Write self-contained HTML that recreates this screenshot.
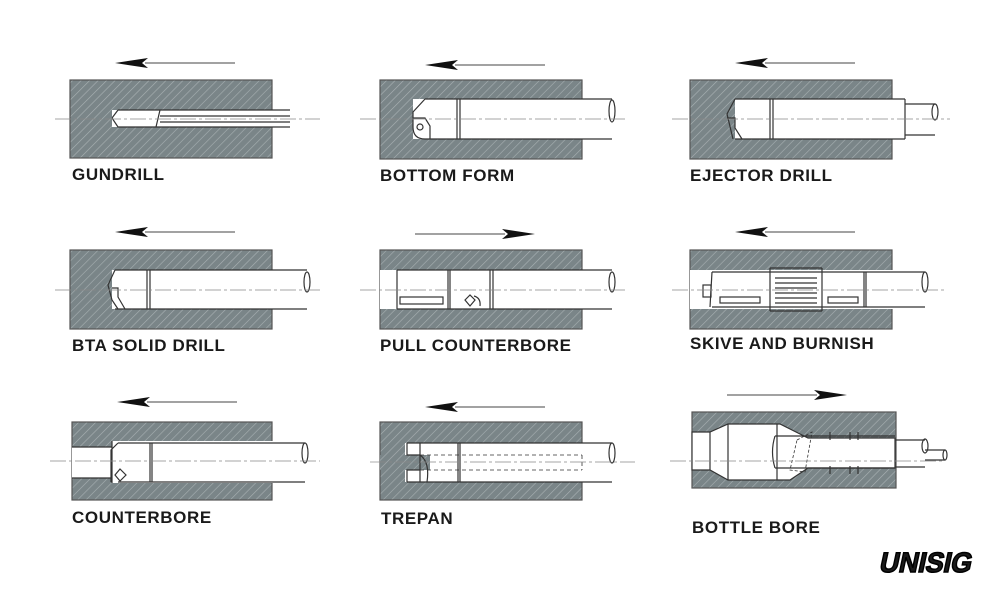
<!DOCTYPE html>
<html><head><meta charset="utf-8"><style>
html,body{margin:0;padding:0;background:#fff;width:1000px;height:600px;overflow:hidden}
text{font-family:"Liberation Sans",sans-serif;font-weight:bold;fill:#1a1a1a}
</style></head><body>
<svg width="1000" height="600" viewBox="0 0 1000 600" xmlns="http://www.w3.org/2000/svg">
<defs>
<pattern id="h" width="6" height="6" patternUnits="userSpaceOnUse" patternTransform="rotate(45)">
<rect width="6" height="6" fill="#7a8588"/><line x1="0" y1="0" x2="0" y2="6" stroke="#a9b1b3" stroke-width="1.2"/>
</pattern>
</defs>
<g fill="none" stroke="#333" stroke-width="1.2">

<g stroke="#444" stroke-width="1">
<line x1="145" y1="63" x2="235" y2="63"/><line x1="455" y1="65" x2="545" y2="65"/><line x1="765" y1="63" x2="855" y2="63"/>
<line x1="145" y1="232" x2="235" y2="232"/><line x1="415" y1="234" x2="505" y2="234"/><line x1="765" y1="232" x2="855" y2="232"/>
<line x1="147" y1="402" x2="237" y2="402"/><line x1="455" y1="407" x2="545" y2="407"/><line x1="727" y1="395" x2="817" y2="395"/>
</g>
<g fill="#111" stroke="none">
<path d="M115,63 L148,58 L142,63 L148,68Z"/><path d="M425,65 L458,60 L452,65 L458,70Z"/><path d="M735,63 L768,58 L762,63 L768,68Z"/>
<path d="M115,232 L148,227 L142,232 L148,237Z"/><path d="M535,234 L502,229 L508,234 L502,239Z"/><path d="M735,232 L768,227 L762,232 L768,237Z"/>
<path d="M117,402 L150,397 L144,402 L150,407Z"/><path d="M425,407 L458,402 L452,407 L458,412Z"/><path d="M847,395 L814,390 L820,395 L814,400Z"/>
</g>

<rect x="70" y="80" width="202" height="78" fill="url(#h)" stroke="#555"/>
<rect x="112" y="110" width="161" height="17" fill="#fff" stroke="none"/>
<path d="M118,110 L290,110 M112,118 L118,110 M112,118 L118,127 L290,127 M160,110 L156,127 M160,116 L290,116 M160,122 L290,122"/>
<rect x="380" y="80" width="202" height="79" fill="url(#h)" stroke="#555"/>
<rect x="413" y="99" width="170" height="40" fill="#fff" stroke="none"/>
<path d="M425,99 L612,99 M425,139 L612,139 M425,99 L413,112 L413,127 Q413,139 425,139 M457,99 L457,139 M460,99 L460,139 M413,118 L425,118 L430,126 L430,139"/>
<circle cx="420" cy="127" r="3"/><ellipse cx="612" cy="111" rx="3" ry="11"/>
<rect x="690" y="80" width="202" height="79" fill="url(#h)" stroke="#555"/>
<rect x="735" y="99" width="158" height="40" fill="#fff" stroke="none"/>
<path d="M735,99 L833,99 L905,99 M735,139 L905,139 M735,99 L727,114 L733,139 M770,99 L770,139 M773,99 L773,139 M905,99 L905,139 M905,104 L935,104 M905,135 L935,135 M727,118 L735,118 L735,128 L742,139"/>
<ellipse cx="935" cy="112" rx="3" ry="8"/>

<rect x="70" y="250" width="202" height="79" fill="url(#h)" stroke="#555"/>
<rect x="112" y="270" width="161" height="39" fill="#fff" stroke="none"/>
<path d="M115,270 L307,270 M115,309 L307,309 M115,270 L108,285 L112,300 L118,309 M147,270 L147,309 M150,270 L150,309 M112,288 L118,288 L118,297 L125,309"/>
<ellipse cx="307" cy="282" rx="3" ry="10"/>
<rect x="380" y="250" width="202" height="79" fill="url(#h)" stroke="#555"/>
<rect x="380" y="270" width="203" height="39" fill="#fff" stroke="none"/>
<path d="M397,270 L612,270 M397,309 L612,309 M397,270 L397,309 M448,270 L448,309 M450,270 L450,309 M490,270 L490,309 M493,270 L493,309"/>
<rect x="400" y="297" width="43" height="7"/><path d="M465,300 L470,295 L475,300 L470,306Z"/><path d="M474,296 Q481,298 480,306"/>
<ellipse cx="612" cy="282" rx="3" ry="10"/>
<rect x="690" y="250" width="202" height="79" fill="url(#h)" stroke="#555"/>
<rect x="690" y="270" width="203" height="39" fill="#fff" stroke="none"/>
<path d="M712,272 L925,272 M712,307 L925,307 M712,272 L710,307 M770,268 L770,311 M822,268 L822,311 M770,268 L822,268 M770,311 L822,311 M864,272 L864,307 M866,272 L866,307"/>
<rect x="703" y="285" width="8" height="12"/>
<rect x="720" y="297" width="40" height="6"/><rect x="828" y="297" width="30" height="6"/>
<path d="M775,278 L817,278 M775,288 L817,288 M775,298 L817,298 M775,283 L817,283 M775,293 L817,293 M775,303 L817,303"/>
<ellipse cx="925" cy="282" rx="3" ry="10"/>

<rect x="72" y="422" width="200" height="78" fill="url(#h)" stroke="#555"/>
<rect x="72" y="447" width="42" height="31" fill="#fff" stroke="none"/>
<rect x="112" y="441" width="161" height="42" fill="#fff" stroke="none"/>
<path d="M72,447 L112,447 M72,478 L112,478 M112,441 L112,483 M118,443 L305,443 M118,482 L305,482 M118,443 L111,450 L111,482 M150,443 L150,482 M152,443 L152,482"/>
<path d="M115,475 L120,469 L126,475 L120,481Z"/><ellipse cx="305" cy="453" rx="3" ry="10"/>
<rect x="380" y="422" width="202" height="78" fill="url(#h)" stroke="#555"/>
<rect x="405" y="443" width="178" height="39" fill="#fff" stroke="none"/>
<rect x="380" y="455" width="50" height="15" fill="url(#h)" stroke="none"/>
<path d="M407,443 L612,443 M407,482 L612,482 M407,443 L407,455 L420,455 M407,482 L407,470 L420,470 M420,443 L420,482 M458,443 L458,482 M460,443 L460,482 M420,455 Q430,462 427,482" />
<path d="M420,455 L582,455 M420,470 L582,470 M582,455 L582,470" stroke-dasharray="4,3" stroke-width="0.8"/>
<ellipse cx="612" cy="453" rx="3" ry="10"/>
<rect x="692" y="412" width="204" height="76" fill="url(#h)" stroke="#555"/>
<path d="M692,432 L710,432 L728,424 L780,424 L800,434 L808,438 L895,438 L895,468 L808,468 L790,480 L728,480 L710,470 L692,470Z" fill="#fff" stroke="#333"/>
<path d="M710,432 L710,470 M728,424 L728,480 M777,424 L777,480 M775,436 L895,436 M775,468 L895,468 M775,436 Q770,452 775,468 M830,432 L830,440 M850,432 L850,440 M858,432 L858,440 M830,466 L830,474 M850,466 L850,474 M858,466 L858,474 M895,440 L925,440 M895,467 L925,467 M925,450 L945,450 M925,460 L945,460"/>
<path d="M797,440 L812,432 L805,472 L790,470Z" stroke-dasharray="3,2" stroke-width="0.8"/>
<ellipse cx="925" cy="446" rx="3" ry="7"/><ellipse cx="945" cy="455" rx="2" ry="5"/>

<g stroke="#888" stroke-width="0.7" stroke-dasharray="16,3,3,3">
<line x1="55" y1="119" x2="320" y2="119"/><line x1="360" y1="119" x2="625" y2="119"/><line x1="672" y1="119" x2="950" y2="119"/>
<line x1="55" y1="290" x2="320" y2="290"/><line x1="360" y1="290" x2="625" y2="290"/><line x1="672" y1="290" x2="945" y2="290"/>
<line x1="50" y1="461" x2="320" y2="461"/><line x1="370" y1="462" x2="635" y2="462"/><line x1="670" y1="461" x2="945" y2="461"/>
</g>
</g>

<g font-size="17" style="letter-spacing:0.6px">
<text x="72" y="180">GUNDRILL</text><text x="380" y="181">BOTTOM FORM</text><text x="690" y="181">EJECTOR DRILL</text>
<text x="72" y="351">BTA SOLID DRILL</text><text x="380" y="351">PULL COUNTERBORE</text><text x="690" y="349">SKIVE AND BURNISH</text>
<text x="72" y="523">COUNTERBORE</text><text x="381" y="524">TREPAN</text><text x="692" y="533">BOTTLE BORE</text>
</g>
<text x="878" y="572" font-size="28" textLength="92" lengthAdjust="spacingAndGlyphs" transform="translate(122,0) skewX(-12)" style="font-weight:900" fill="#000" stroke="#000" stroke-width="1.5">UNISIG</text>
</svg>
</body></html>
